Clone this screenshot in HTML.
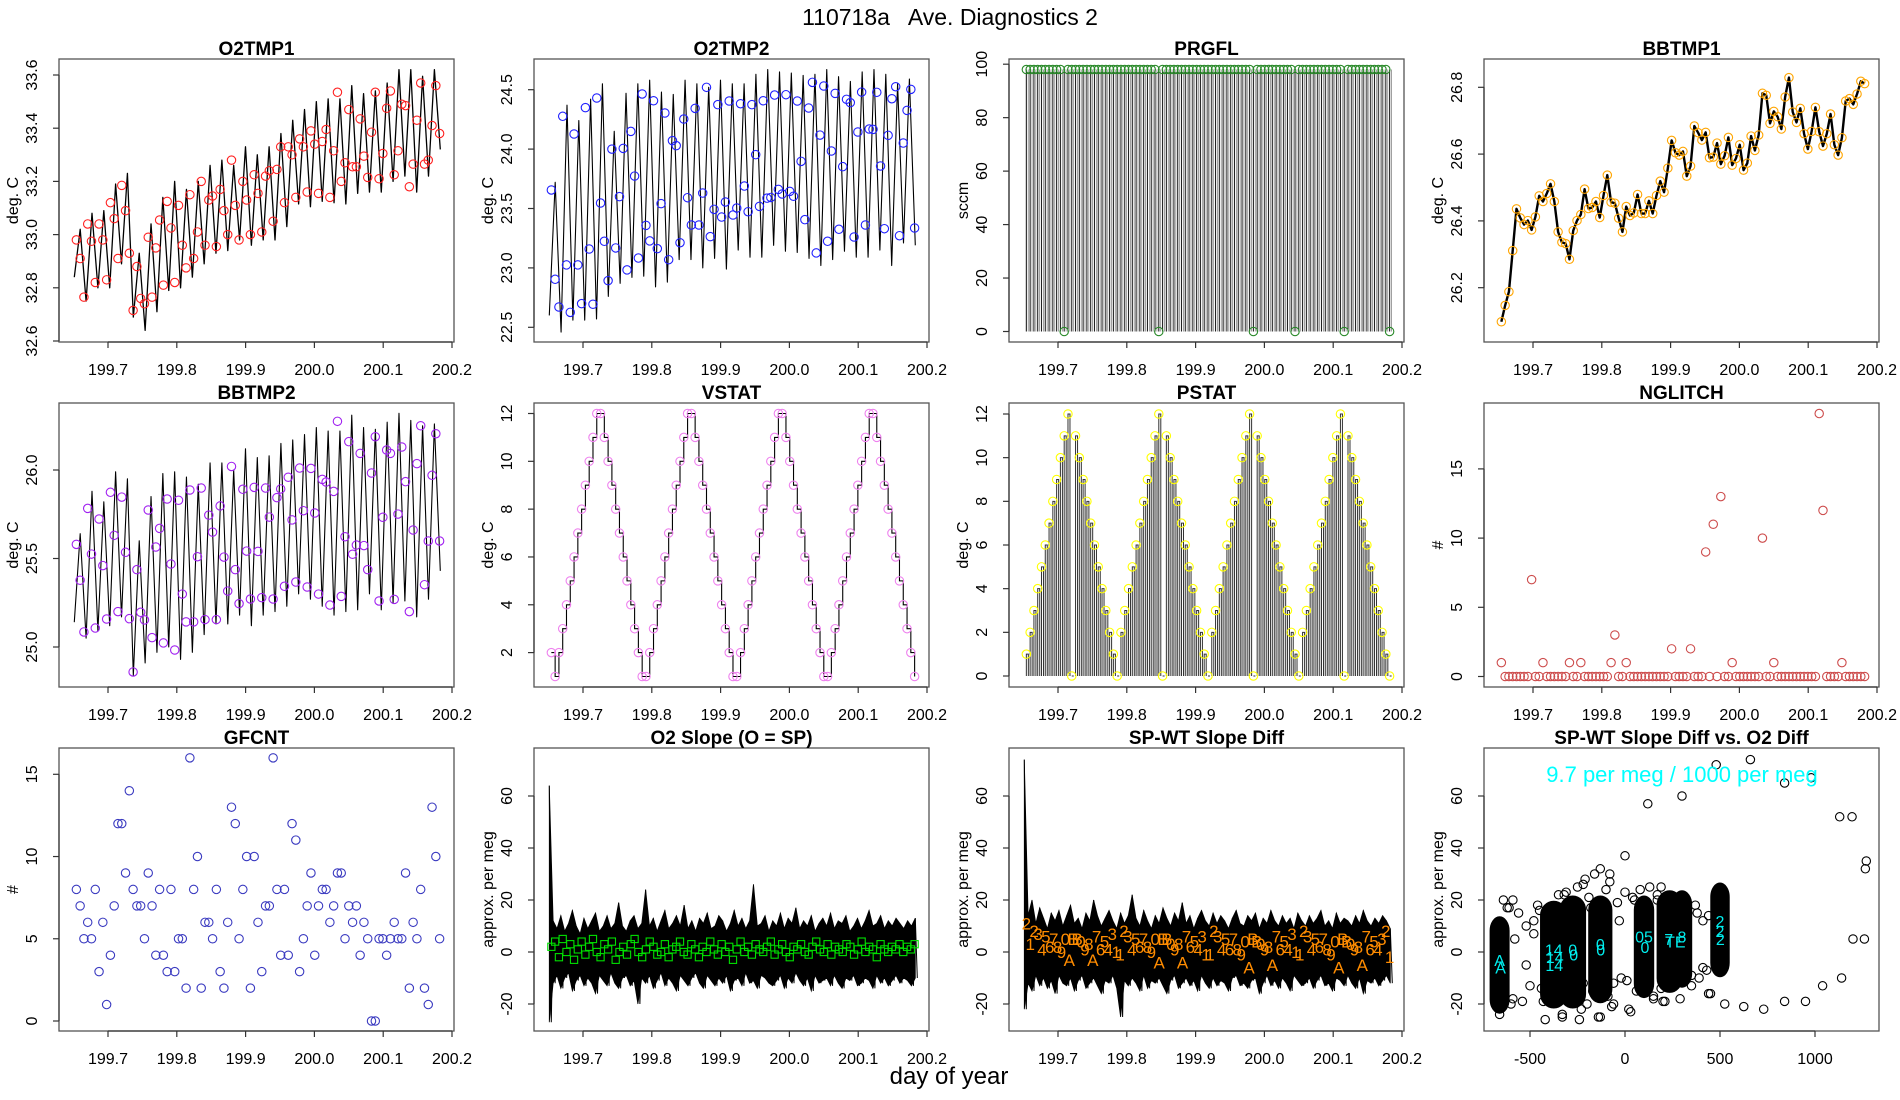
<!DOCTYPE html>
<html><head><meta charset="utf-8"><title>110718a Ave. Diagnostics 2</title>
<style>
html,body{margin:0;padding:0;background:#fff;}
svg{display:block;font-family:"Liberation Sans",Arial,sans-serif;}
</style></head>
<body>
<svg id="chart" xmlns="http://www.w3.org/2000/svg" width="1900" height="1100" viewBox="0 0 1900 1100">
<rect x="0" y="0" width="1900" height="1100" fill="#fff"/>
<text x="950" y="25" text-anchor="middle" font-size="23" fill="#000" xml:space="preserve">110718a   Ave. Diagnostics 2</text>
<text x="949" y="1084" text-anchor="middle" font-size="24" fill="#000">day of year</text>
</svg>
<script>
// ---------- data ----------
const xTickVals = [199.7, 199.8, 199.9, 200.0, 200.1, 200.2];
const xTickLabels = ["199.7", "199.8", "199.9", "200.0", "200.1", "200.2"];

const o2tmp1Line = [32.84,33.02,32.75,33.08,32.8,33.09,32.8,33.19,32.89,33.23,32.69,32.93,32.64,33.04,32.71,33.14,32.79,33.2,32.8,33.17,32.84,33.2,32.89,33.26,32.93,33.28,32.94,33.26,32.98,33.33,32.96,33.3,32.98,33.33,32.98,33.38,33.03,33.43,33.115,33.47,33.105,33.5,33.125,33.51,33.12,33.51,33.115,33.56,33.155,33.53,33.16,33.54,33.16,33.57,33.2,33.62,33.22,33.62,33.16,33.595,33.22,33.62,33.32];
const o2tmp1Pts = [32.98,32.91,32.765,33.04,32.975,32.82,33.04,32.98,32.83,33.12,33.06,32.91,33.185,33.09,32.93,32.715,32.88,32.76,32.74,32.99,32.765,32.95,33.055,32.81,33.125,33.025,32.82,33.11,32.96,32.875,33.15,32.91,33.01,33.2,32.96,33.13,33.145,32.955,33.17,33.09,33.0,33.28,33.11,32.98,33.2,33.13,33.0,33.225,33.155,33.01,33.22,33.24,33.05,33.245,33.33,33.12,33.33,33.3,33.14,33.36,33.33,33.16,33.39,33.34,33.155,33.35,33.395,33.14,33.315,33.535,33.2,33.27,33.47,33.255,33.255,33.435,33.295,33.215,33.385,33.535,33.21,33.305,33.475,33.54,33.225,33.315,33.49,33.485,33.18,33.265,33.43,33.57,33.265,33.28,33.41,33.56,33.38];

const o2tmp2Line = [22.6,23.72,22.46,24.37,22.56,24.24,22.56,24.42,22.57,24.55,22.76,24.15,22.87,24.47,22.92,24.55,22.93,24.58,22.84,24.48,22.88,24.46,23.07,24.58,23.07,24.55,23.0,24.52,23.08,24.58,22.99,24.55,23.15,24.55,23.09,24.63,23.09,24.67,23.19,24.65,23.14,24.64,23.13,24.62,23.08,24.63,23.02,24.67,23.07,24.61,23.14,24.57,23.09,24.65,23.09,24.67,23.15,24.63,23.02,24.55,23.21,24.59,23.19];
const o2tmp2Pts = [23.656,22.904,22.671,24.276,23.025,22.626,24.127,23.025,22.699,24.349,23.159,22.694,24.43,23.546,23.224,22.893,24.0,23.168,23.6,24.006,22.983,24.149,23.773,23.083,24.464,23.358,23.227,24.407,23.162,23.541,24.304,23.069,24.071,24.029,23.212,24.253,23.591,23.361,24.343,23.361,23.63,24.52,23.263,23.493,24.374,23.428,23.555,24.405,23.445,23.504,24.382,23.689,23.473,24.374,23.953,23.518,24.407,23.587,23.593,24.455,23.661,23.622,24.458,23.644,23.603,24.405,23.897,23.406,24.346,24.562,23.126,24.118,24.531,23.224,23.984,24.469,23.325,23.852,24.419,24.391,23.26,24.144,24.48,23.361,24.169,24.166,24.478,23.858,23.33,24.116,24.424,24.525,23.271,24.051,24.326,24.503,23.336];

const prgflPts = [98,98,98,98,98,98,98,98,98,98, 0,98,98,98,98,98,98,98,98,98, 98,98,98,98,98,98,98,98,98,98, 98,98,98,98,98,0,98,98,98,98, 98,98,98,98,98,98,98,98,98,98, 98,98,98,98,98,98,98,98,98,98, 0,98,98,98,98,98,98,98,98,98, 98,0,98,98,98,98,98,98,98,98, 98,98,98,98,0,98,98,98,98,98, 98,98,98,98,98,98,0];

const bbtmp1Pts = [26.098,26.147,26.188,26.311,26.436,26.409,26.389,26.401,26.373,26.412,26.475,26.458,26.482,26.511,26.458,26.367,26.336,26.332,26.285,26.371,26.401,26.419,26.495,26.437,26.44,26.458,26.41,26.476,26.537,26.456,26.453,26.408,26.367,26.443,26.416,26.424,26.479,26.422,26.422,26.46,26.422,26.476,26.519,26.486,26.558,26.641,26.604,26.597,26.608,26.534,26.564,26.684,26.664,26.642,26.665,26.589,26.591,26.633,26.57,26.595,26.65,26.567,26.587,26.628,26.552,26.573,26.654,26.611,26.657,26.782,26.776,26.692,26.728,26.712,26.675,26.771,26.829,26.726,26.695,26.737,26.661,26.615,26.668,26.74,26.667,26.624,26.661,26.72,26.628,26.597,26.649,26.759,26.766,26.749,26.78,26.818,26.811];

const bbtmp2Line = [25.14,25.64,25.05,25.88,25.09,25.82,25.12,25.99,25.17,25.95,24.84,25.6,24.91,25.85,24.97,25.98,25.0,25.99,24.93,25.96,24.97,25.92,25.07,26.04,25.13,26.04,25.13,26.0,25.18,26.12,25.12,26.07,25.18,26.08,25.2,26.15,25.23,26.17,25.3,26.2,25.27,26.24,25.23,26.22,25.18,26.22,25.2,26.31,25.21,26.24,25.3,26.23,25.21,26.27,25.25,26.32,25.26,26.28,25.17,26.25,25.27,26.26,25.43];
const bbtmp2Pts = [25.58,25.377,25.085,25.783,25.525,25.107,25.723,25.46,25.158,25.874,25.631,25.2,25.847,25.535,25.16,24.859,25.437,25.196,25.153,25.774,25.053,25.565,25.67,25.023,25.836,25.469,24.983,25.829,25.299,25.142,25.887,25.142,25.51,25.898,25.155,25.745,25.649,25.155,25.797,25.508,25.316,26.02,25.437,25.245,25.891,25.542,25.271,25.902,25.54,25.279,25.898,25.734,25.271,25.844,25.893,25.343,25.959,25.718,25.367,26.011,25.77,25.339,26.009,25.757,25.299,25.947,25.932,25.237,25.879,26.275,25.286,25.623,26.16,25.524,25.576,26.094,25.573,25.437,25.983,26.188,25.26,25.733,26.113,26.094,25.269,25.751,26.13,25.934,25.2,25.661,26.036,26.25,25.352,25.599,25.97,26.205,25.599];

const vstatPts = [2,1,2,3,4,5,6,7,8,9,10,11,12,12,11,10,9,8,7,6,5,4,3,2,1,1,2,3,4,5,6,7,8,9,10,11,12,12,11,10,9,8,7,6,5,4,3,2,1,1,2,3,4,5,6,7,8,9,10,11,12,12,11,10,9,8,7,6,5,4,3,2,1,1,2,3,4,5,6,7,8,9,10,11,12,12,11,10,9,8,7,6,5,4,3,2,1];
const pstatPts = [1,2,3,4,5,6,7,8,9,10,11,12,0,11,10,9,8,7,6,5,4,3,2,1,0,2,3,4,5,6,7,8,9,10,11,12,0,11,10,9,8,7,6,5,4,3,2,1,0,2,3,4,5,6,7,8,9,10,11,12,0,11,10,9,8,7,6,5,4,3,2,1,0,2,3,4,5,6,7,8,9,10,11,12,0,11,10,9,8,7,6,5,4,3,2,1,0];

const nglitchPts = [1,0,0,0,0,0,0,0,7,0, 0,1,0,0,0,0,0,0,1,0, 0,1,0,0,0,0,0,0,0,1, 3,0,0,1,0,0,0,0,0,0, 0,0,0,0,0,2,0,0,0,0, 2,0,0,0,9,0,11,0,13,0, 0,1,0,0,0,0,0,0,0,10, 0,0,1,0,0,0,0,0,0,0, 0,0,0,0,19,12,0,0,0,0, 1,0,0,0,0,0,0];

const gfcntPts = [8,7,5,6,5,8,3,6,1,4,7,12,12,9,14,8,7,7,5,9,7,4,8,4,3,8,3,5,5,2,16,8,10,2,6,6,5,8,3,2,6,13,12,5,8,10,2,10,6,3,7,7,16,8,4,8,4,12,11,3,5,7,9,4,7,8,8,6,7,9,9,5,7,6,7,4,6,5,0,0,5,5,4,5,6,5,5,9,2,6,5,8,2,1,13,10,5];

const o2slopeHi = [64,12,9,14,8,11,16,10,7,13,9,12,15,8,10,14,9,11,19,10,8,12,14,9,11,24,10,13,8,12,16,9,11,14,10,18,9,12,8,13,11,15,9,10,14,12,8,11,16,10,13,9,12,26,10,11,14,8,12,10,15,9,13,11,17,9,12,10,14,8,11,13,10,15,9,12,11,14,8,10,13,9,12,16,10,11,14,9,12,10,13,11,9,12,10,13];
const o2slopeLo = [-27,-12,-9,-14,-10,-8,-15,-11,-9,-13,-10,-12,-16,-9,-11,-13,-8,-12,-14,-10,-9,-13,-11,-20,-10,-12,-9,-14,-11,-8,-13,-10,-12,-15,-9,-11,-13,-10,-8,-12,-14,-9,-11,-13,-10,-12,-9,-15,-11,-10,-13,-8,-12,-11,-14,-9,-10,-12,-13,-11,-9,-14,-10,-12,-8,-11,-13,-10,-15,-9,-12,-11,-10,-13,-9,-12,-14,-10,-11,-9,-13,-12,-10,-11,-14,-9,-12,-10,-13,-11,-9,-12,-10,-11,-13,-10];
const o2slopePts = [2,4,-2,5,0,3,-3,1,4,-1,2,5,0,-2,3,1,4,-3,0,2,-1,3,5,0,-2,1,4,2,-1,0,3,-2,1,2,4,0,-1,3,1,-2,2,0,4,1,-1,3,0,2,-3,1,4,0,2,-1,3,1,0,2,4,-1,1,3,0,-2,2,1,3,0,-1,2,4,1,0,3,-1,2,1,0,3,2,-1,1,4,0,2,1,-2,3,1,0,2,1,3,0,2,1,3];

const spwtHi = [74,14,20,11,17,13,9,15,12,16,10,14,18,11,13,9,15,12,20,14,10,13,16,12,9,15,11,14,22,13,10,16,12,9,14,11,17,13,10,15,12,19,11,14,9,13,16,12,10,15,11,14,12,9,13,16,11,10,14,12,15,9,13,11,16,12,10,14,11,13,9,15,12,10,14,11,13,16,10,12,9,15,11,13,12,10,14,11,16,12,10,13,11,14,12,9];
const spwtLo = [-22,-12,-15,-9,-13,-10,-14,-11,-16,-9,-12,-13,-10,-15,-11,-9,-14,-12,-10,-13,-16,-11,-12,-9,-14,-25,-11,-13,-10,-12,-15,-9,-14,-11,-12,-10,-13,-16,-11,-9,-14,-12,-10,-13,-11,-15,-9,-12,-14,-10,-13,-11,-12,-15,-10,-9,-13,-12,-14,-11,-10,-16,-12,-9,-13,-11,-14,-10,-12,-15,-9,-11,-13,-12,-10,-14,-11,-9,-13,-12,-15,-10,-11,-13,-9,-12,-14,-10,-16,-11,-12,-10,-13,-11,-9,-12];
const spwtLabels = ["2","1","2","3","4","5","6","7","8","9","0","A","B","B","0","9","8","A","7","6","5","4","3","1","1","2","3","4","5","6","7","8","9","0","A","B","B","0","9","8","A","7","6","5","4","3","1","1","2","3","4","5","6","7","8","9","0","A","B","B","0","9","8","A","7","6","5","4","3","1","1","2","3","4","5","6","7","8","9","0","A","B","B","0","9","8","A","7","6","5","4","3","2","1"];
const spwtVals = [11,3,8,7,1,6,2,5,2,0,5,-3,5,5,4,1,3,-3,6,1,4,1,7,0,-1,8,6,1,5,2,5,2,0,5,-4,5,5,3,1,3,-4,6,2,4,1,6,-1,-1,8,6,1,5,1,5,1,-1,4,-6,5,4,3,1,2,-5,6,1,4,1,7,0,-1,8,6,1,5,2,5,1,-1,4,-6,5,4,3,1,2,-5,6,1,4,1,5,8,-2];

const clusterX = [-660,-375,-275,-130,100,235,300,500];
const clusterSpread = [58,97,93,80,60,90,60,55];
const clusterLo = [-22,-20,-20,-18,-16,-14,-12,-8];
const clusterHi = [12,18,20,20,20,22,22,25];
const cloudX = [-640,-610,-590,-560,-540,-520,-500,-480,-460,-440,
 -420,-400,-350,-330,-310,-300,-250,-230,-210,-200,
 -190,-170,-160,-100,-90,-80,-60,-40,-20,0,
 20,40,60,80,130,150,170,190,200,210,
 330,350,370,390,410,430,450,-600,-580,-520,
 -480,-450,-430,-330,-300,-220,-180,-150,-60,-30,
 10,50,150,170,190,350,380,410,440,-130,
 120,300,480,660,840,980,1130,1195,1265,1270,
 1200,1260,1140,1040,950,840,730,625,525,440,
 0,-130,-80,-220,-320,-590,-620,-660,-420,-330,
 -240,-140,-70,30,210,290];
const cloudY = [20,17,-18,15,-19,10,-13,7,18,-14,
 3,-12,22,-24,23,-19,25,-22,28,-20,
 21,-15,30,24,-17,27,-12,19,-10,23,
 -22,21,-15,24,25,-17,20,25,-19,19,
 15,-13,18,-10,12,-7,-16,-20,5,-5,
 12,16,-19,-9,15,-12,17,-14,-20,12,
 -11,20,-18,22,-14,-9,15,-6,14,-25,
 57,60,72,74,65,67,52,52,32,35,
 5,5,-10,-13,-19,-19,-22,-21,-20,-16,
 37,32,30,26,22,20,17,-24,-26,-25,
 -26,-25,-21,-23,-19,-18];
const cyanX = [-660,-655,-375,-370,-372,-275,-270,-130,-128,100,105,230,265,300,500,500,502];
const cyanY = [-3,-6,1,-2,-5,1,-1,3,1,6,2,5,4,6,12,8,5];
const cyanText = ["A","A","14","14","14","0","0","0","0","05","0","7","TE","8","2","2","2"];

// ---------- drawing ----------
const NS = "http://www.w3.org/2000/svg";
const svg = document.getElementById("chart");
function mk(tag, attrs, parent, name, inter) {
  const e = document.createElementNS(NS, tag);
  for (const k in attrs) e.setAttribute(k, attrs[k]);
  
  
  (parent || svg).appendChild(e);
  return e;
}
const COLS = [59, 534, 1009, 1484];
const ROWS = [59, 403, 748];
const HS = [283, 284, 283];
const PW = 395;
const T0 = 199.654, T1 = 200.182, L0 = 199.651, L1 = 200.183;
function tAt(i, n) { return T0 + i * (T1 - T0) / (n - 1); }
function lAt(i, n) { return L0 + i * (L1 - L0) / (n - 1); }

function makePanel(col, row, key, title, ylab, yt, ytl, ymap, xt, xtl, xmap) {
  const L = COLS[col], T = ROWS[row], H = HS[row], B = T + H;
  const g = mk('g', {}, svg, key + '-panel');
  const x = xmap ? (v => xmap[1] + (v - xmap[0]) * xmap[2]) : (d => L + 49 + (d - 199.7) * 688);
  const y = v => ymap[1] + (v - ymap[0]) * (ymap[3] - ymap[1]) / (ymap[2] - ymap[0]);
  const cp = mk('clipPath', {id: 'clip-' + key}, g, key + '-clip');
  mk('rect', {x: L, y: T, width: PW, height: H}, cp, key + '-clip-rect');
  const data = mk('g', {'clip-path': 'url(#clip-' + key + ')'}, g, key + '-data');
  mk('rect', {x: L, y: T, width: PW, height: H, fill: 'none', stroke: '#555', 'stroke-width': 1.3}, g, key + '-plot-box');
  mk('text', {x: L + PW / 2, y: T - 4, 'text-anchor': 'middle', 'font-size': 19, 'font-weight': 'bold'}, g, key + '-title').textContent = title;
  const xa = mk('g', {}, g, key + '-x-axis');
  mk('line', {x1: x(xt[0]), x2: x(xt[xt.length - 1]), y1: B, y2: B, stroke: '#333', 'stroke-width': 1.2}, xa, key + '-x-axis-line');
  xt.forEach((v, i) => {
    mk('line', {x1: x(v), x2: x(v), y1: B, y2: B + 6, stroke: '#333', 'stroke-width': 1.2}, xa, key + '-x-tick');
    mk('text', {x: x(v), y: B + 33, 'text-anchor': 'middle', 'font-size': 16}, xa, key + '-x-tick-label').textContent = xtl[i];
  });
  const ya = mk('g', {}, g, key + '-y-axis');
  mk('line', {x1: L, x2: L, y1: y(yt[0]), y2: y(yt[yt.length - 1]), stroke: '#333', 'stroke-width': 1.2}, ya, key + '-y-axis-line');
  yt.forEach((v, i) => {
    mk('line', {x1: L - 6, x2: L, y1: y(v), y2: y(v), stroke: '#333', 'stroke-width': 1.2}, ya, key + '-y-tick');
    const xx = L - 22, yy = y(v);
    mk('text', {x: xx, y: yy, 'text-anchor': 'middle', 'font-size': 16, transform: 'rotate(-90 ' + xx + ' ' + yy + ')'}, ya, key + '-y-tick-label').textContent = ytl[i];
  });
  const lx = L - 41, ly = T + H / 2;
  mk('text', {x: lx, y: ly, 'text-anchor': 'middle', 'font-size': 16, transform: 'rotate(-90 ' + lx + ' ' + ly + ')'}, g, key + '-y-axis-title').textContent = ylab;
  return {x, y, g: data, L, T, B};
}
function polyline(p, xs, ys, color, w, name) {
  const pts = xs.map((v, i) => p.x(v).toFixed(2) + ',' + p.y(ys[i]).toFixed(2)).join(' ');
  return mk('polyline', {points: pts, fill: 'none', stroke: color, 'stroke-width': w, 'stroke-linejoin': 'round'}, p.g, name);
}
function circles(p, vals, color, name, tfn) {
  vals.forEach((v, i) => {
    if (v === null) return;
    mk('circle', {cx: p.x(tfn(i, vals.length)), cy: p.y(v), r: 4.2, fill: 'none', stroke: color, 'stroke-width': 1.1}, p.g, name);
  });
}
const fmt1 = a => a.map(v => v.toFixed(1));
const fmt0 = a => a.map(v => String(v));

// Panel 1 O2TMP1
{
  const yt = [32.6, 32.8, 33.0, 33.2, 33.4, 33.6];
  const p = makePanel(0, 0, 'o2tmp1', 'O2TMP1', 'deg. C', yt, fmt1(yt), [33.6, 75, 32.6, 341], xTickVals, xTickLabels);
  polyline(p, o2tmp1Line.map((v, i) => lAt(i, o2tmp1Line.length)), o2tmp1Line, '#000', 1.3, 'o2tmp1-line');
  circles(p, o2tmp1Pts, '#ff2020', 'o2tmp1-point', tAt);
}
// Panel 2 O2TMP2
{
  const yt = [22.5, 23.0, 23.5, 24.0, 24.5];
  const p = makePanel(1, 0, 'o2tmp2', 'O2TMP2', 'deg. C', yt, fmt1(yt), [24.5, 89.7, 22.5, 327.3], xTickVals, xTickLabels);
  polyline(p, o2tmp2Line.map((v, i) => lAt(i, o2tmp2Line.length)), o2tmp2Line, '#000', 1.1, 'o2tmp2-line');
  circles(p, o2tmp2Pts, '#2020ff', 'o2tmp2-point', tAt);
}
// Panel 3 PRGFL
{
  const yt = [0, 20, 40, 60, 80, 100];
  const p = makePanel(2, 0, 'prgfl', 'PRGFL', 'sccm', yt, fmt0(yt), [0, 331.5, 100, 64.2], xTickVals, xTickLabels);
  const top = Math.max(...prgflPts);
  prgflPts.forEach((v, i) => {
    const xx = p.x(tAt(i, prgflPts.length));
    mk('line', {x1: xx, x2: xx, y1: p.y(0), y2: p.y(top), stroke: '#222', 'stroke-width': 1.1}, p.g, 'prgfl-trace-segment');
    mk('line', {x1: xx + 1.9, x2: xx + 1.9, y1: p.y(0), y2: p.y(top), stroke: '#888', 'stroke-width': 0.8}, p.g, 'prgfl-trace-segment');
  });
  circles(p, prgflPts, '#2a8a2a', 'prgfl-point', tAt);
}
// Panel 4 BBTMP1
{
  const yt = [26.2, 26.4, 26.6, 26.8];
  const p = makePanel(3, 0, 'bbtmp1', 'BBTMP1', 'deg. C', yt, fmt1(yt), [26.8, 87.3, 26.2, 287.7], xTickVals, xTickLabels);
  polyline(p, bbtmp1Pts.map((v, i) => tAt(i, bbtmp1Pts.length)), bbtmp1Pts, '#000', 2.4, 'bbtmp1-line');
  circles(p, bbtmp1Pts, '#ffa500', 'bbtmp1-point', tAt);
}
// Panel 5 BBTMP2
{
  const yt = [25.0, 25.5, 26.0];
  const p = makePanel(0, 1, 'bbtmp2', 'BBTMP2', 'deg. C', yt, fmt1(yt), [26, 470, 25, 647], xTickVals, xTickLabels);
  polyline(p, bbtmp2Line.map((v, i) => lAt(i, bbtmp2Line.length)), bbtmp2Line, '#000', 1.1, 'bbtmp2-line');
  circles(p, bbtmp2Pts, '#a020f0', 'bbtmp2-point', tAt);
}
// Panel 6 VSTAT
{
  const yt = [2, 4, 6, 8, 10, 12];
  const p = makePanel(1, 1, 'vstat', 'VSTAT', 'deg. C', yt, fmt0(yt), [12, 413.5, 2, 652.6], xTickVals, xTickLabels);
  const n = vstatPts.length;
  let d = '';
  vstatPts.forEach((v, i) => {
    const xx = p.x(tAt(i, n)), yy = p.y(v);
    d += (i === 0 ? 'M' : 'V') + (i === 0 ? xx.toFixed(2) + ',' : '') + yy.toFixed(2);
    if (i < n - 1) d += 'H' + p.x(tAt(i + 1, n)).toFixed(2);
  });
  mk('path', {d: d, fill: 'none', stroke: '#000', 'stroke-width': 1.1}, p.g, 'vstat-step-line');
  circles(p, vstatPts, '#ee82ee', 'vstat-point', tAt);
}
// Panel 7 PSTAT
{
  const yt = [0, 2, 4, 6, 8, 10, 12];
  const p = makePanel(2, 1, 'pstat', 'PSTAT', 'deg. C', yt, fmt0(yt), [12, 414, 0, 676], xTickVals, xTickLabels);
  const n = pstatPts.length;
  pstatPts.forEach((v, i) => {
    const xx = p.x(tAt(i, n));
    mk('path', {d: 'M' + xx + ',' + p.y(0) + 'V' + p.y(v) + 'H' + (xx + 2) + 'V' + p.y(0), fill: 'none', stroke: '#333', 'stroke-width': 1}, p.g, 'pstat-bar');
  });
  circles(p, pstatPts, '#ffff00', 'pstat-point', tAt);
}
// Panel 8 NGLITCH
{
  const yt = [0, 5, 10, 15];
  const p = makePanel(3, 1, 'nglitch', 'NGLITCH', '#', yt, fmt0(yt), [0, 676.5, 15, 468.9], xTickVals, xTickLabels);
  circles(p, nglitchPts, '#cd4c4c', 'nglitch-point', tAt);
}
// Panel 9 GFCNT
{
  const yt = [0, 5, 10, 15];
  const p = makePanel(0, 2, 'gfcnt', 'GFCNT', '#', yt, fmt0(yt), [0, 1021, 15, 774.3], xTickVals, xTickLabels);
  circles(p, gfcntPts, '#3a3ac0', 'gfcnt-point', tAt);
}
function band(p, hi, lo, key) {
  const n = hi.length;
  let top = '', bot = '', zig = '';
  for (let i = 0; i < n; i++) {
    const xx = p.x(lAt(i, n));
    top += (i ? 'L' : 'M') + xx.toFixed(2) + ',' + p.y(hi[i]).toFixed(2);
  }
  for (let i = n - 1; i >= 0; i--) {
    const xx = p.x(lAt(i, n));
    bot += 'L' + xx.toFixed(2) + ',' + p.y(lo[i]).toFixed(2);
  }
  mk('path', {d: top + bot + 'Z', fill: '#000', stroke: '#000', 'stroke-width': 0.8}, p.g, key + '-noise-band');
  for (let i = 0; i < n; i++) {
    const xx = p.x(lAt(i, n));
    zig += (i ? 'L' : 'M') + xx.toFixed(2) + ',' + p.y(hi[i]).toFixed(2) + 'L' + (xx + 2).toFixed(2) + ',' + p.y(lo[i]).toFixed(2);
  }
  mk('path', {d: zig, fill: 'none', stroke: '#000', 'stroke-width': 1}, p.g, key + '-trace');
}
// Panel 10 O2 Slope
{
  const yt = [-20, 0, 20, 40, 60];
  const p = makePanel(1, 2, 'o2slope', 'O2 Slope (O = SP)', 'approx. per meg', yt, fmt0(yt), [0, 952, 60, 796], xTickVals, xTickLabels);
  band(p, o2slopeHi, o2slopeLo, 'o2slope');
  o2slopePts.forEach((v, i) => {
    const xx = p.x(tAt(i, o2slopePts.length)), yy = p.y(v);
    mk('rect', {x: xx - 3.6, y: yy - 3.6, width: 7.2, height: 7.2, fill: 'none', stroke: '#00e000', 'stroke-width': 1.1}, p.g, 'o2slope-point');
  });
}
// Panel 11 SP-WT Slope Diff
{
  const yt = [-20, 0, 20, 40, 60];
  const p = makePanel(2, 2, 'spwt', 'SP-WT Slope Diff', 'approx. per meg', yt, fmt0(yt), [0, 952, 60, 796], xTickVals, xTickLabels);
  band(p, spwtHi, spwtLo, 'spwt');
  spwtVals.forEach((v, i) => {
    mk('text', {x: p.x(tAt(i, spwtVals.length)), y: p.y(v) + 6, 'text-anchor': 'middle', 'font-size': 17, fill: '#ff8c00'}, p.g, 'spwt-label').textContent = spwtLabels[i];
  });
}
// Panel 12 SP-WT Slope Diff vs O2 Diff
{
  const yt = [-20, 0, 20, 40, 60];
  const xt = [-500, 0, 500, 1000];
  const p = makePanel(3, 2, 'scatter', 'SP-WT Slope Diff vs. O2 Diff', 'approx. per meg', yt, fmt0(yt), [0, 952, 60, 796], xt, fmt0(xt), [0, 1625, 0.19]);
  clusterX.forEach((cx, i) => {
    const w = clusterSpread[i] * 0.19 + 8;
    const y1 = p.y(clusterHi[i]) - 4, y2 = p.y(clusterLo[i]) + 4;
    mk('rect', {x: p.x(cx) - w / 2, y: y1, width: w, height: y2 - y1, rx: w / 2, ry: 14, fill: '#000', stroke: '#000', 'stroke-width': 1}, p.g, 'scatter-cluster');
  });
  cloudX.forEach((cx, i) => {
    mk('circle', {cx: p.x(cx), cy: p.y(cloudY[i]), r: 4.2, fill: 'none', stroke: '#000', 'stroke-width': 1.1}, p.g, 'scatter-point');
  });
  cyanX.forEach((cx, i) => {
    mk('text', {x: p.x(cx), y: p.y(cyanY[i]) + 6, 'text-anchor': 'middle', 'font-size': 16, fill: '#00eeee'}, p.g, 'scatter-cyan-label').textContent = cyanText[i];
  });
  mk('text', {x: 1682, y: 782, 'text-anchor': 'middle', 'font-size': 22, fill: '#00ffff'}, p.g, 'ratio-annotation').textContent = '9.7 per meg / 1000 per meg';
}
</script>
</body></html>
